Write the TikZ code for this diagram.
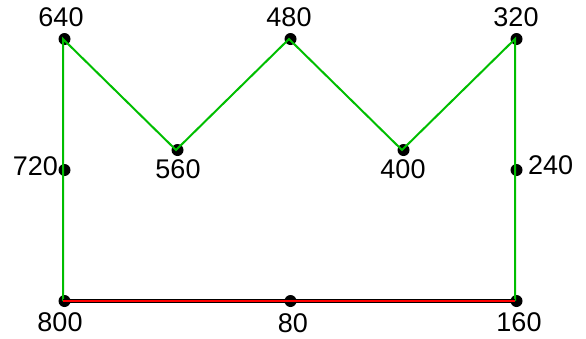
\documentclass[tikz,border=0pt]{standalone}
\usepackage{fontspec}
\setmainfont{Liberation Sans}
\begin{document}
\begin{tikzpicture}[x=1pt,y=-1pt,
  dot/.style={circle,fill=black,inner sep=0pt,minimum size=12pt},
  lbl/.style={inner sep=0pt,font=\fontsize{27}{27}\selectfont},
  gline/.style={draw={rgb,255:red,0;green,190;blue,0},line width=2pt},
  rline/.style={draw={rgb,255:red,255;green,0;blue,0},line width=2.2pt}]
\useasboundingbox (0,0) rectangle (586,338);
\coordinate (p640) at (63,39);
\coordinate (p560) at (176,150);
\coordinate (p480) at (289,39);
\coordinate (p400) at (402,150);
\coordinate (p320) at (515,39);
\coordinate (p240) at (515,170);
\coordinate (p160) at (515,301);
\coordinate (p80) at (289,301);
\coordinate (p800) at (63,301);
\coordinate (p720) at (63,170);
\foreach \p in {640,560,480,400,320,240,160,80,800,720}
  \node[dot] (d\p) at ([xshift=1.5pt]p\p) {};
\draw[gline] (p800) -- (p720) -- (p640) -- (p560) -- (p480) -- (p400) -- (p320) -- (p240) -- (p160);
\draw[black,line width=3.2pt] (p800) -- (p80) -- (p160);
\draw[rline] (p800) -- (p80) -- (p160);
\node[lbl] (t640) at (61,17) {640};
\node[lbl] (t480) at (289,17) {480};
\node[lbl] (t320) at (516,17) {320};
\node[lbl,anchor=east] (t720) at (58,166) {720};
\node[lbl] (t560) at (178,169) {560};
\node[lbl] (t400) at (403,169) {400};
\node[lbl,anchor=west] (t240) at (528,165) {240};
\node[lbl] (t800) at (60,322) {800};
\node[lbl] (t80) at (293,323.5) {80};
\node[lbl] (t160) at (519,322) {160};
\end{tikzpicture}
\end{document}
